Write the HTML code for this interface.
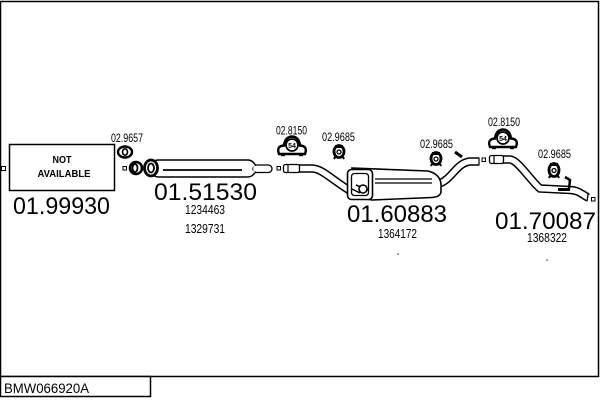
<!DOCTYPE html>
<html><head><meta charset="utf-8"><style>
html,body{margin:0;padding:0;background:#fff;}
svg{display:block;}
text{font-family:"Liberation Sans",Arial,sans-serif;fill:#000;}
</style></head><body>
<svg width="600" height="400" viewBox="0 0 600 400" xmlns="http://www.w3.org/2000/svg">
<rect x="0" y="0" width="600" height="400" fill="#fff"/>
<!-- frame -->
<path d="M0.5 377 L0.5 1.5 L598.5 1.5 L598.5 377" fill="none" stroke="#000" stroke-width="1.5"/>
<line x1="0" y1="376.5" x2="599" y2="376.5" stroke="#000" stroke-width="1.5"/>
<rect x="0.5" y="376.5" width="150" height="20" fill="#fff" stroke="#000" stroke-width="1.5"/>
<text x="4" y="393" font-size="14" textLength="85" lengthAdjust="spacingAndGlyphs">BMW066920A</text>

<!-- left square -->
<rect x="1.5" y="166.5" width="4" height="4" fill="#fff" stroke="#000" stroke-width="1"/>

<!-- NOT AVAILABLE box -->
<rect x="9.5" y="144.5" width="105" height="46" fill="#fff" stroke="#000" stroke-width="1.5"/>
<text x="62" y="163" font-size="10" font-weight="bold" text-anchor="middle" textLength="19" lengthAdjust="spacingAndGlyphs">NOT</text>
<text x="64" y="177" font-size="10" font-weight="bold" text-anchor="middle" textLength="53" lengthAdjust="spacingAndGlyphs">AVAILABLE</text>
<text x="13" y="214" font-size="24" textLength="97" lengthAdjust="spacingAndGlyphs">01.99930</text>

<!-- 02.9657 clamp -->
<text x="111" y="142" font-size="12" textLength="32" lengthAdjust="spacingAndGlyphs">02.9657</text>
<ellipse cx="125" cy="152" rx="7" ry="5.5" fill="#fff" stroke="#000" stroke-width="2.4"/>
<ellipse cx="125" cy="152" rx="2.5" ry="3.2" fill="#fff" stroke="#000" stroke-width="1.6"/>

<!-- first muffler -->
<rect x="123" y="166.5" width="3.5" height="3.5" fill="#fff" stroke="#000" stroke-width="1"/>
<rect x="150" y="160" width="106" height="17" rx="8.5" fill="#fff" stroke="#000" stroke-width="1.5"/>
<line x1="163" y1="170" x2="242" y2="170" stroke="#000" stroke-width="1.8"/>
<rect x="253" y="165" width="19" height="7.5" rx="3.7" fill="#fff" stroke="#000" stroke-width="1.3"/>
<line x1="254" y1="165" x2="254" y2="172.5" stroke="#fff" stroke-width="1.4"/>
<ellipse cx="136" cy="168" rx="6" ry="6" fill="#fff" stroke="#000" stroke-width="2.6"/>
<ellipse cx="135" cy="168" rx="2.5" ry="4" fill="#fff" stroke="#000" stroke-width="1.8"/>
<ellipse cx="151" cy="168" rx="6.5" ry="8" fill="#fff" stroke="#000" stroke-width="2.8"/>
<ellipse cx="151" cy="168" rx="3" ry="4.5" fill="#fff" stroke="#000" stroke-width="1.8"/>
<text x="154" y="200" font-size="24" textLength="103" lengthAdjust="spacingAndGlyphs">01.51530</text>
<text x="185" y="214" font-size="12.5" textLength="40" lengthAdjust="spacingAndGlyphs">1234463</text>
<text x="185" y="233" font-size="12.5" textLength="40" lengthAdjust="spacingAndGlyphs">1329731</text>

<!-- 02.8150 clamp 1 -->
<text x="276" y="134.5" font-size="12" textLength="31" lengthAdjust="spacingAndGlyphs">02.8150</text>
<path d="M279 154 Q276 146 284 145.5 Q285 137 292 136.5 Q299 137 300 145.5 Q308 146 305 154 Z" fill="#fff" stroke="#000" stroke-width="2.4"/>
<line x1="281" y1="155" x2="285" y2="155" stroke="#000" stroke-width="2.4"/>
<line x1="299" y1="155" x2="303" y2="155" stroke="#000" stroke-width="2.4"/>
<circle cx="292" cy="145" r="6" fill="#fff" stroke="#000" stroke-width="1.7"/>
<text x="292" y="148" font-size="7" font-weight="bold" text-anchor="middle">54</text>

<!-- pipe 2 (to center muffler) -->
<rect x="277" y="166.5" width="3.5" height="3.5" fill="#fff" stroke="#000" stroke-width="1"/>
<path d="M290 168.5 L312 168.5 C322 168.5 332 180 352 192" fill="none" stroke="#000" stroke-width="8.5"/>
<path d="M290 168.5 L312 168.5 C322 168.5 332 180 352 192" fill="none" stroke="#fff" stroke-width="5.5"/>
<rect x="283.5" y="164.5" width="16" height="8" rx="2" fill="#fff" stroke="#000" stroke-width="1.3"/>
<line x1="288" y1="164.5" x2="288" y2="172.5" stroke="#000" stroke-width="1.2"/>

<!-- 02.9685 clamp 1 -->
<text x="322" y="141" font-size="12" textLength="33" lengthAdjust="spacingAndGlyphs">02.9685</text>
<ellipse cx="339" cy="151.5" rx="5" ry="6" fill="#fff" stroke="#000" stroke-width="2.8"/>
<circle cx="339" cy="152" r="2" fill="#fff" stroke="#000" stroke-width="1.3"/>
<rect x="335" y="145" width="8" height="3" fill="#000"/>
<path d="M335 157 L334 159 M343 157 L344 159" stroke="#000" stroke-width="2"/>

<!-- center muffler -->
<path d="M438 184 C452 180 456 163 470 161.5 L479 161.5" fill="none" stroke="#000" stroke-width="8.5"/>
<path d="M438 184 C452 180 456 163 470 161.5 L479 161.5" fill="none" stroke="#fff" stroke-width="5.5"/>
<line x1="479" y1="157.5" x2="479" y2="165.5" stroke="#000" stroke-width="1.2"/>
<path d="M455 152 L462 157" stroke="#000" stroke-width="3"/>
<path d="M352 168 L428 171 Q440 174 441 184 L441 192 Q440 197 432 197.5 L372 200 L350 196 Z" fill="#fff" stroke="#000" stroke-width="1.6"/>
<rect x="347.5" y="169.5" width="25" height="30" rx="4" fill="#fff" stroke="#000" stroke-width="1.6"/>
<rect x="351.5" y="173.5" width="17" height="22" rx="3" fill="#fff" stroke="#000" stroke-width="1.3"/>
<path d="M352 189 L360 193 M356 185 L368 190" stroke="#000" stroke-width="1.5"/>
<ellipse cx="363" cy="189" rx="4" ry="4" fill="#fff" stroke="#000" stroke-width="1.6"/>
<line x1="375" y1="179" x2="432" y2="179" stroke="#000" stroke-width="1.3"/>
<line x1="375" y1="183" x2="432" y2="183" stroke="#000" stroke-width="1.3"/>
<text x="347" y="222" font-size="24" textLength="100" lengthAdjust="spacingAndGlyphs">01.60883</text>
<text x="378" y="238" font-size="12.5" textLength="39" lengthAdjust="spacingAndGlyphs">1364172</text>
<rect x="397.5" y="253.5" width="1.2" height="1.2" fill="#000"/>

<!-- 02.9685 clamp 2 -->
<text x="420" y="148" font-size="12" textLength="33" lengthAdjust="spacingAndGlyphs">02.9685</text>
<ellipse cx="436" cy="158.5" rx="5" ry="6" fill="#fff" stroke="#000" stroke-width="2.8"/>
<circle cx="436" cy="159" r="2" fill="#fff" stroke="#000" stroke-width="1.3"/>
<rect x="432" y="152" width="8" height="3" fill="#000"/>
<path d="M432 164 L431 166 M440 164 L441 166" stroke="#000" stroke-width="2"/>

<!-- pipe 3 -->
<rect x="482" y="158" width="3.5" height="3.5" fill="#fff" stroke="#000" stroke-width="1"/>
<path d="M492 159.5 L510 159.5 C518 160 530 180 540 188.5 L570 190 C578 190 583 195 588 197.5" fill="none" stroke="#000" stroke-width="8.5"/>
<path d="M492 159.5 L510 159.5 C518 160 530 180 540 188.5 L570 190 C578 190 583 195 588 197.5" fill="none" stroke="#fff" stroke-width="5.5"/>
<line x1="588" y1="193.5" x2="587" y2="201.5" stroke="#000" stroke-width="1.2"/>
<rect x="489.5" y="155.5" width="14" height="8" rx="2" fill="#fff" stroke="#000" stroke-width="1.3"/>
<line x1="494" y1="155.5" x2="494" y2="163.5" stroke="#000" stroke-width="1.2"/>
<rect x="591.5" y="197.5" width="3.5" height="3.5" fill="#fff" stroke="#000" stroke-width="1"/>
<path d="M565 177 L570 180 L569 189" fill="none" stroke="#000" stroke-width="2.5"/>
<rect x="558" y="188" width="12" height="3" fill="#000"/>

<!-- 02.8150 clamp 2 -->
<text x="488" y="126" font-size="12" textLength="32" lengthAdjust="spacingAndGlyphs">02.8150</text>
<path d="M490 147 Q487 139 495 138.5 Q496 130 503 129.5 Q510 130 511 138.5 Q519 139 516 147 Z" fill="#fff" stroke="#000" stroke-width="2.4"/>
<line x1="492" y1="148" x2="496" y2="148" stroke="#000" stroke-width="2.4"/>
<line x1="510" y1="148" x2="514" y2="148" stroke="#000" stroke-width="2.4"/>
<circle cx="503" cy="138" r="6" fill="#fff" stroke="#000" stroke-width="1.7"/>
<text x="503" y="141" font-size="7" font-weight="bold" text-anchor="middle">54</text>

<!-- 02.9685 clamp 3 -->
<text x="538" y="158" font-size="12" textLength="33" lengthAdjust="spacingAndGlyphs">02.9685</text>
<ellipse cx="554" cy="170" rx="5" ry="6.5" fill="#fff" stroke="#000" stroke-width="2.8"/>
<circle cx="554" cy="170.5" r="2" fill="#fff" stroke="#000" stroke-width="1.3"/>
<rect x="550" y="163" width="8" height="3" fill="#000"/>
<path d="M550 176 L549 178 M558 176 L559 178" stroke="#000" stroke-width="2"/>

<text x="495" y="229" font-size="24" textLength="101" lengthAdjust="spacingAndGlyphs">01.70087</text>
<text x="527" y="242" font-size="12.5" textLength="40" lengthAdjust="spacingAndGlyphs">1368322</text>
<rect x="546.5" y="259.5" width="1.2" height="1.2" fill="#000"/>
</svg>
</body></html>
